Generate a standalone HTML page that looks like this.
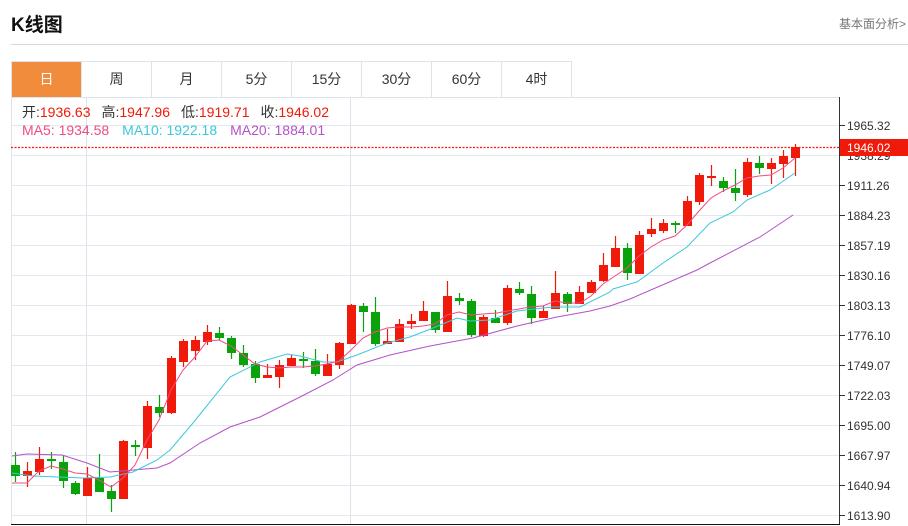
<!DOCTYPE html>
<html><head><meta charset="utf-8"><style>
body{margin:0;width:908px;height:526px;background:#fff;font-family:"Liberation Sans","Noto Sans CJK SC",sans-serif;overflow:hidden;position:relative}
.t{position:absolute;left:11px;top:10px;font-size:19px;font-weight:bold;color:#111}
.r{position:absolute;right:2px;top:15px;font-size:12px;color:#777}
.hl{position:absolute;left:11px;top:44px;width:897px;height:1px;background:#d8d8d8}
.tabs{position:absolute;left:11px;top:61px;height:35px;border:1px solid #dde3ea;border-right:none;display:flex}
.tabs div{width:69px;border-right:1px solid #dde3ea;text-align:center;line-height:35px;font-size:14px;color:#333}
.tabs .a{background:#f28c3d;color:#fff}
svg{position:absolute;left:0;top:0}
</style></head><body>
<div class="t">K线图</div><div class="r">基本面分析&gt;</div><div class="hl"></div>
<div class="tabs"><div class="a">日</div><div>周</div><div>月</div><div>5分</div><div>15分</div><div>30分</div><div>60分</div><div>4时</div></div>
<svg id="s" width="908" height="526" font-family="Liberation Sans, Noto Sans CJK SC, sans-serif"></svg>
<script>
var s=document.getElementById('s'),h='';
h+='<line x1="11.5" y1="97" x2="11.5" y2="524" stroke="#dde3ea"/>';
h+='<line x1="11" y1="97.5" x2="840" y2="97.5" stroke="#dde3ea"/>';
h+='<line x1="86.5" y1="97" x2="86.5" y2="524" stroke="#dde3ea"/>';
h+='<line x1="350.5" y1="97" x2="350.5" y2="524" stroke="#dde3ea"/>';
var labs=["1965.32","1938.29","1911.26","1884.23","1857.19","1830.16","1803.13","1776.10","1749.07","1722.03","1695.00","1667.97","1640.94","1613.90"];
for(var i=0;i<14;i++){var y=125+30*i;h+='<line x1="11" y1="'+(y+.5)+'" x2="840" y2="'+(y+.5)+'" stroke="#e3e8ee"/>';h+='<line x1="840" y1="'+(y+.5)+'" x2="845" y2="'+(y+.5)+'" stroke="#333"/>';h+='<text x="847" y="'+(y+5)+'" font-size="12" fill="#333">'+labs[i]+'</text>';}
h+='<line x1="839.5" y1="97" x2="839.5" y2="524" stroke="#333"/>';
h+='<line x1="11" y1="524.5" x2="840" y2="524.5" stroke="#111"/>';
var c=[
['g',465,476,452,482],['r',471,476,462,487],['r',459,472,447,475],['g',459,461,452,469],['g',462,481,455,488],
['g',483,494,481,495],['r',478,496,467,496],['g',478,492,454,492],['g',491,499,485,512],['r',441,499,440,499],
['g',445,447,440,456],['r',406,448,401,459],['g',407,413,395,417],['r',358,413,356,414],['r',341,362,339,367],
['r',340,351,336,360],['r',332,342,325,345],['g',333,338,327,340],['g',338,353,336,359],['g',353,365,345,367],
['g',364,378,361,383],['r',375,378,364,378],['r',365,377,360,388],['r',358,366,355,366],['g',359,361,352,368],
['g',361,374,349,376],['r',364,376,354,376],['r',343,365,342,369],['r',305,344,304,344],['g',306,312,303,332],
['g',312,344,297,346],['r',341,344,329,344],['r',324,342,319,342],['r',321,324,314,329],['r',311,321,301,321],
['g',312,330,312,333],['r',296,332,281,332],['g',298,301,293,305],['g',301,335,299,337],['r',317,336,315,337],
['g',318,323,310,323],['r',288,323,285,325],['g',289,293,282,295],['g',294,318,286,324],['r',311,318,306,318],
['r',293,309,271,309],['g',294,304,292,312],['r',292,304,286,304],['r',282,293,280,293],['r',265,281,253,282],
['r',248,267,236,267],['g',248,273,243,280],['r',235,274,231,274],['r',229,234,218,237],['r',223,231,219,233],
['g',223,225,221,233],['r',201,226,196,226],['r',175,202,173,205],['r',176,177,165,186],['g',181,188,177,192],
['g',188,193,169,201],['r',162,195,158,197],['g',163,168,156,174],['r',163,169,158,184],['r',156,164,150,178],
['r',147,158,144,176]];
for(var k=0;k<c.length;k++){var x=15+12*k,d=c[k],col=d[0]=='r'?'#f01a0a':'#0aa20a';
h+='<line x1="'+(x+.5)+'" y1="'+d[3]+'" x2="'+(x+.5)+'" y2="'+d[4]+'" stroke="'+col+'" stroke-width="1.2"/>';
h+='<rect x="'+(x-4)+'" y="'+d[1]+'" width="9" height="'+Math.max(2,d[2]-d[1])+'" fill="'+col+'"/>';}
function pl(p,col){h+='<polyline fill="none" stroke="'+col+'" stroke-width="1" points="'+p+'"/>';}
pl("12,456 27,454 62,455 87,463 110,472 157,468 170,463 200,443 230,427 260,417 300,397 333,380 357,365 390,355 430,346 473,338 517,326 557,317 590,311 610,306 630,299 697,270 710,263 760,237 793,215","#b452c8");
pl("12,473 33,476 83,478 110,477 133,472 157,460 170,450 193,423 230,377 260,362 287,354 300,356 323,362 337,362 357,355 387,343 410,337 433,328 457,318 470,321 490,320 517,311 543,308 553,307 580,307 610,292 613,289 637,282 663,263 687,247 710,223 733,212 747,200 770,190 795,173","#3cc8dc");
pl("12,483 27,483 39,471 51,466 63,469 75,473 87,474 99,480 111,487 123,478 135,465 147,440 159,420 171,390 183,370 195,357 207,341 219,340 231,346 243,355 255,364 267,367 279,368 291,367 303,367 315,366 327,364 339,361 351,350 363,338 375,332 387,328 399,327 411,327 423,326 435,324 447,315 459,312 471,315 483,314 497,313 507,311 519,309 530,307 543,306 555,301 567,303 580,303 591,296 603,284 615,276 627,268 639,256 651,247 663,240 675,236 687,225 699,211 711,198 723,191 735,185 747,178 759,176 771,175 783,168 795,158","#f04c80");
h+='<line x1="11" y1="147.5" x2="840" y2="147.5" stroke="#f01a0a" stroke-width="1.2" stroke-dasharray="2,1.5"/>';
h+='<rect x="840" y="139" width="68" height="17" fill="#f01a0a"/><text x="847" y="152" font-size="12" fill="#fff">1946.02</text>';
h+='<text x="22" y="117" font-size="14"><tspan fill="#333">开:</tspan><tspan fill="#f01a0a">1936.63</tspan><tspan fill="#333" dx="11">高:</tspan><tspan fill="#f01a0a">1947.96</tspan><tspan fill="#333" dx="11">低:</tspan><tspan fill="#f01a0a">1919.71</tspan><tspan fill="#333" dx="11">收:</tspan><tspan fill="#f01a0a">1946.02</tspan></text>';
h+='<text x="22" y="135" font-size="14"><tspan fill="#f04c80">MA5: 1934.58</tspan><tspan fill="#3cc8dc" dx="13">MA10: 1922.18</tspan><tspan fill="#b452c8" dx="13">MA20: 1884.01</tspan></text>';
s.innerHTML=h;
</script>
</body></html>
